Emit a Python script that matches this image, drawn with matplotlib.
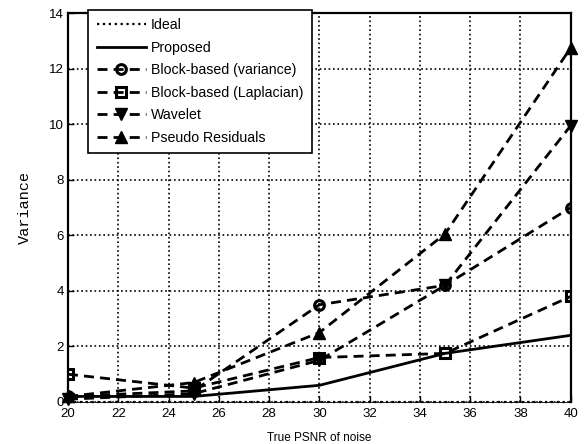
import matplotlib
matplotlib.use("Agg")
import matplotlib.pyplot as plt

plt.rcParams['font.family'] = ['Liberation Sans', 'DejaVu Sans']

# True PSNR of noise (dB) at which each estimator was evaluated
psnr = [20, 25, 30, 35, 40]

# Variance of the noise estimate for each method
ideal = [0.0, 0.0, 0.0, 0.0, 0.0]
proposed = [0.2, 0.2, 0.6, 1.75, 2.4]
block_variance = [0.2, 0.4, 3.5, 4.2, 7.0]
block_laplacian = [1.0, 0.5, 1.6, 1.75, 3.8]
wavelet = [0.1, 0.3, 1.5, 4.2, 9.95]
pseudo_residuals = [0.2, 0.7, 2.5, 6.05, 12.75]

x_ticks = [20, 22, 24, 26, 28, 30, 32, 34, 36, 38, 40]
y_ticks = [0, 2, 4, 6, 8, 10, 12, 14]

fig = plt.figure(figsize=(5.86, 4.44), dpi=100)
ax = fig.add_axes([0.116, 0.0946, 0.858, 0.876])

dash = (3.6, 2.2)
ax.plot(psnr, ideal, linestyle=':', color='black', lw=1.6, label='Ideal', clip_on=False, zorder=5)
ax.plot(psnr, proposed, linestyle='-', color='black', lw=2.0, label='Proposed')
ax.plot(psnr, block_variance, linestyle=(0, dash), color='black', lw=2.0,
        marker='o', ms=7, mfc='none', mew=2.2, label='Block-based (variance)')
ax.plot(psnr, block_laplacian, linestyle=(0, dash), color='black', lw=2.0,
        marker='s', ms=6.5, mfc='none', mew=2.2, label='Block-based (Laplacian)')
ax.plot(psnr, wavelet, linestyle=(0, dash), color='black', lw=2.0,
        marker='v', ms=8, mfc='black', label='Wavelet', clip_on=False)
ax.plot(psnr, pseudo_residuals, linestyle=(0, dash), color='black', lw=2.0,
        marker='^', ms=8, mfc='black', label='Pseudo Residuals', clip_on=False)

ax.set_xlim(20, 40)
ax.set_ylim(0, 14)
ax.set_xticks(x_ticks)
ax.set_yticks(y_ticks)
ax.tick_params(direction='in', length=4, width=1, labelsize=9.5, pad=3)
ax.tick_params(axis='x', pad=4)
ax.grid(True, linestyle=':', color='black', lw=1.2)

for side in ['left', 'right', 'top']:
    ax.spines[side].set_linewidth(1.6)
ax.spines['bottom'].set_linewidth(0.6)

ax.set_xlabel('True PSNR of noise', fontsize=8.5, labelpad=9)
ax.set_ylabel('Variance', fontsize=11, family=['Liberation Mono', 'DejaVu Sans Mono'], labelpad=12)

leg = ax.legend(loc='upper left', bbox_to_anchor=(0.04, 1.008), fontsize=10.2,
                handlelength=3.5, handletextpad=0.35, labelspacing=0.6,
                borderpad=0.6, borderaxespad=0.0, fancybox=False, framealpha=1)
leg.get_frame().set_edgecolor('black')
leg.get_frame().set_linewidth(1.2)

fig.savefig('out.png', dpi=100)
